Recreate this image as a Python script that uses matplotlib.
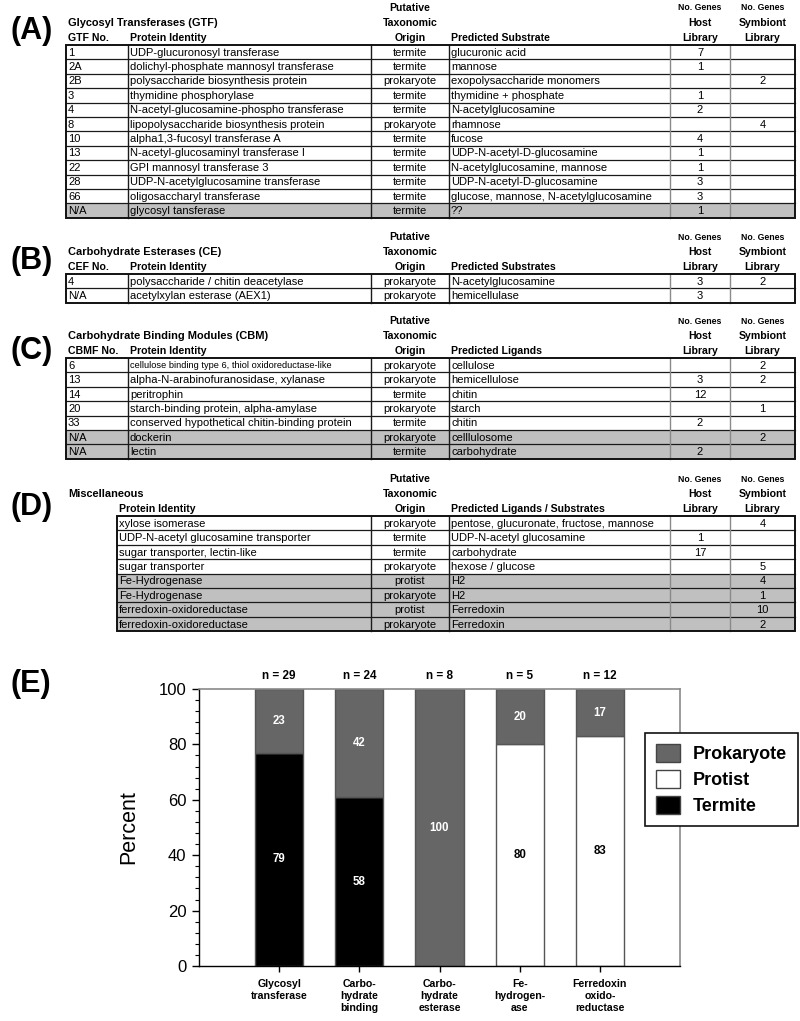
import matplotlib
matplotlib.use("Agg")
import matplotlib.pyplot as plt
from matplotlib.patches import Rectangle, Patch
from matplotlib.ticker import MultipleLocator

plt.rcParams['font.family'] = ['Liberation Sans', 'DejaVu Sans']

# ---------------- Table data ----------------
gtf_no = ["1", "2A", "2B", "3", "4", "8", "10", "13", "22", "28", "66", "N/A"]
gtf_protein = ["UDP-glucuronosyl transferase", "dolichyl-phosphate mannosyl transferase",
               "polysaccharide biosynthesis protein", "thymidine phosphorylase",
               "N-acetyl-glucosamine-phospho transferase", "lipopolysaccharide biosynthesis protein",
               "alpha1,3-fucosyl transferase A", "N-acetyl-glucosaminyl transferase I",
               "GPI mannosyl transferase 3", "UDP-N-acetylglucosamine transferase",
               "oligosaccharyl transferase", "glycosyl tansferase"]
gtf_origin = ["termite", "termite", "prokaryote", "termite", "termite", "prokaryote",
              "termite", "termite", "termite", "termite", "termite", "termite"]
gtf_substrate = ["glucuronic acid", "mannose", "exopolysaccharide monomers", "thymidine + phosphate",
                 "N-acetylglucosamine", "rhamnose", "fucose", "UDP-N-acetyl-D-glucosamine",
                 "N-acetylglucosamine, mannose", "UDP-N-acetyl-D-glucosamine",
                 "glucose, mannose, N-acetylglucosamine", "??"]
gtf_host = ["7", "1", "", "1", "2", "", "4", "1", "1", "3", "3", "1"]
gtf_symb = ["", "", "2", "", "", "4", "", "", "", "", "", ""]
gtf_shaded = [False] * 11 + [True]

ce_no = ["4", "N/A"]
ce_protein = ["polysaccharide / chitin deacetylase", "acetylxylan esterase (AEX1)"]
ce_origin = ["prokaryote", "prokaryote"]
ce_substrate = ["N-acetylglucosamine", "hemicellulase"]
ce_host = ["3", "3"]
ce_symb = ["2", ""]
ce_shaded = [False, False]

cbm_no = ["6", "13", "14", "20", "33", "N/A", "N/A"]
cbm_protein = ["cellulose binding type 6, thiol oxidoreductase-like",
               "alpha-N-arabinofuranosidase, xylanase", "peritrophin",
               "starch-binding protein, alpha-amylase",
               "conserved hypothetical chitin-binding protein", "dockerin", "lectin"]
cbm_origin = ["prokaryote", "prokaryote", "termite", "prokaryote", "termite", "prokaryote", "termite"]
cbm_ligand = ["cellulose", "hemicellulose", "chitin", "starch", "chitin", "celllulosome", "carbohydrate"]
cbm_host = ["", "3", "12", "", "2", "", "2"]
cbm_symb = ["2", "2", "", "1", "", "2", ""]
cbm_shaded = [False] * 5 + [True, True]

misc_protein = ["xylose isomerase", "UDP-N-acetyl glucosamine transporter",
                "sugar transporter, lectin-like", "sugar transporter", "Fe-Hydrogenase",
                "Fe-Hydrogenase", "ferredoxin-oxidoreductase", "ferredoxin-oxidoreductase"]
misc_origin = ["prokaryote", "termite", "termite", "prokaryote", "protist", "prokaryote",
               "protist", "prokaryote"]
misc_ligand = ["pentose, glucuronate, fructose, mannose", "UDP-N-acetyl glucosamine",
               "carbohydrate", "hexose / glucose", "H2", "H2", "Ferredoxin", "Ferredoxin"]
misc_host = ["", "1", "17", "", "", "", "", ""]
misc_symb = ["4", "", "", "5", "4", "1", "10", "2"]
misc_shaded = [False] * 4 + [True] * 4

# ---------------- Bar chart data ----------------
categories = ["Glycosyl\ntransferase", "Carbo-\nhydrate\nbinding", "Carbo-\nhydrate\nesterase",
              "Fe-\nhydrogen-\nase", "Ferredoxin\noxido-\nreductase"]
n_totals = [29, 24, 8, 5, 12]
termite = [77, 61, 0, 0, 0]
protist = [0, 0, 0, 80, 83]
prokaryote = [23, 39, 100, 20, 17]
termite_labels = ["79", "58", "", "", ""]
protist_labels = ["", "", "", "80", "83"]
prok_labels = ["23", "42", "100", "20", "17"]

# ---------------- Figure ----------------
W, H = 800, 1021
fig = plt.figure(figsize=(8, 10.21), dpi=100)
tab = fig.add_axes([0, 0, 1, 1])
tab.set_xlim(0, W)
tab.set_ylim(H, 0)
tab.axis('off')

ROW_H = 14.4
EDGES_FULL = [66, 128, 371, 449, 670, 730, 795]
EDGES_D = [117, 371, 449, 670, 730, 795]
BODY_FS = 8.0
HEAD_FS = 7.6


def draw_table(top, edges, columns, aligns, shaded, head_left, head_center, title,
               title_x, small_first_row_col=None):
    n = len(columns[0])
    bottom = top + n * ROW_H
    x0, x1 = edges[0], edges[-1]
    for i in range(n):
        if shaded[i]:
            tab.add_patch(Rectangle((x0, top + i * ROW_H), x1 - x0, ROW_H,
                                    facecolor='#c0c0c0', edgecolor='none', zorder=1))
    for i in range(1, n):
        tab.plot([x0, x1], [top + i * ROW_H] * 2, color='#1a1a1a', lw=0.9, zorder=2)
    for j, x in enumerate(edges[1:-1]):
        col = '#8a8a8a' if j >= len(edges) - 4 else '#1a1a1a'
        tab.plot([x, x], [top, bottom], color=col, lw=1.0, zorder=2)
    tab.add_patch(Rectangle((x0, top), x1 - x0, bottom - top, fill=False,
                            edgecolor='#111111', lw=1.4, zorder=3))
    for c, (vals, al) in enumerate(zip(columns, aligns)):
        for i, v in enumerate(vals):
            if not v:
                continue
            yc = top + (i + 0.5) * ROW_H + 0.5
            fs = BODY_FS
            if small_first_row_col is not None and c == small_first_row_col and i == 0:
                fs = 6.7
            if al == 'left':
                tab.text(edges[c] + 2, yc, v, ha='left', va='center', fontsize=fs, zorder=4)
            else:
                tab.text((edges[c] + edges[c + 1]) / 2, yc, v, ha='center', va='center',
                         fontsize=fs, zorder=4)
    for c, txt in head_left.items():
        tab.text(edges[c] + 2, top - 7, txt, ha='left', va='center', fontsize=HEAD_FS,
                 fontweight='bold')
    for c, lines in head_center.items():
        xc = (edges[c] + edges[c + 1]) / 2
        for k, ln in enumerate(lines):
            fs = 6.3 if ln == "No. Genes" else HEAD_FS
            tab.text(xc, top - 37 + 15 * k, ln, ha='center', va='center', fontsize=fs,
                     fontweight='bold')
    tab.text(title_x, top - 22, title, ha='left', va='center', fontsize=HEAD_FS + 0.3,
             fontweight='bold')


aligns6 = ['left', 'left', 'center', 'left', 'center', 'center']
aligns5 = ['left', 'center', 'left', 'center', 'center']
hc_full = {2: ["Putative", "Taxonomic", "Origin"], 4: ["No. Genes", "Host", "Library"],
           5: ["No. Genes", "Symbiont", "Library"]}
hc_d = {1: ["Putative", "Taxonomic", "Origin"], 3: ["No. Genes", "Host", "Library"],
        4: ["No. Genes", "Symbiont", "Library"]}

draw_table(45, EDGES_FULL, [gtf_no, gtf_protein, gtf_origin, gtf_substrate, gtf_host, gtf_symb],
           aligns6, gtf_shaded, {0: "GTF No.", 1: "Protein Identity", 3: "Predicted Substrate"},
           hc_full, "Glycosyl Transferases (GTF)", 68)
draw_table(274, EDGES_FULL, [ce_no, ce_protein, ce_origin, ce_substrate, ce_host, ce_symb],
           aligns6, ce_shaded, {0: "CEF No.", 1: "Protein Identity", 3: "Predicted Substrates"},
           hc_full, "Carbohydrate Esterases (CE)", 68)
draw_table(358, EDGES_FULL, [cbm_no, cbm_protein, cbm_origin, cbm_ligand, cbm_host, cbm_symb],
           aligns6, cbm_shaded, {0: "CBMF No.", 1: "Protein Identity", 3: "Predicted Ligands"},
           hc_full, "Carbohydrate Binding Modules (CBM)", 68, small_first_row_col=1)
draw_table(516, EDGES_D, [misc_protein, misc_origin, misc_ligand, misc_host, misc_symb],
           aligns5, misc_shaded, {0: "Protein Identity", 2: "Predicted Ligands / Substrates"},
           hc_d, "Miscellaneous", 68)

for lab, y in zip(["(A)", "(B)", "(C)", "(D)", "(E)"], [31, 261, 351, 507, 684]):
    tab.text(11, y, lab, ha='left', va='center', fontsize=22, fontweight='bold')

# ---------------- Bar chart ----------------
ax = fig.add_axes([199 / W, 1 - 966 / H, 481 / W, 277 / H])
x = list(range(1, len(categories) + 1))
c_term, c_prot, c_prok = '#000000', '#ffffff', '#666666'
edge = '#555555'
bottoms2 = [t + p for t, p in zip(termite, protist)]
ax.bar(x, termite, width=0.6, color=c_term, edgecolor=edge, lw=1.0, zorder=2)
ax.bar(x, protist, bottom=termite, width=0.6, color=c_prot, edgecolor=edge, lw=1.0, zorder=2)
ax.bar(x, prokaryote, bottom=bottoms2, width=0.6, color=c_prok, edgecolor=edge, lw=1.0, zorder=2)

for i in range(len(x)):
    if termite_labels[i]:
        ax.text(x[i], termite[i] / 2, termite_labels[i], ha='center', va='center',
                color='white', fontsize=8.3, fontweight='bold', zorder=3)
    if protist_labels[i]:
        ax.text(x[i], termite[i] + protist[i] / 2, protist_labels[i], ha='center',
                va='center', color='black', fontsize=8.3, fontweight='bold', zorder=3)
    if prok_labels[i]:
        ax.text(x[i], bottoms2[i] + prokaryote[i] / 2, prok_labels[i], ha='center',
                va='center', color='white', fontsize=8.3, fontweight='bold', zorder=3)
    ax.text(x[i], 104.8, f"n = {n_totals[i]}", ha='center', va='center', fontsize=8.5,
            fontweight='bold')

ax.set_xlim(0, 6)
ax.set_ylim(0, 100)
ax.set_xticks(x)
ax.set_xticklabels(categories, fontsize=7.6, fontweight='bold', linespacing=1.3)
ax.yaxis.set_major_locator(MultipleLocator(20))
ax.yaxis.set_minor_locator(MultipleLocator(4))
ax.tick_params(axis='y', which='major', length=5, width=1, labelsize=12, pad=4)
ax.tick_params(axis='y', which='minor', length=3, width=0.8)
ax.tick_params(axis='x', length=4, width=1, pad=5)
for s in ['top', 'right']:
    ax.spines[s].set_color('#8a8a8a')
    ax.spines[s].set_linewidth(1.2)
for s in ['left', 'bottom']:
    ax.spines[s].set_color('#000000')
    ax.spines[s].set_linewidth(1.0)
ax.set_ylabel("Percent", fontsize=15.5, labelpad=14)

handles = [Patch(facecolor=c_prok, edgecolor='#444444', lw=1.0),
           Patch(facecolor=c_prot, edgecolor='#444444', lw=1.0),
           Patch(facecolor=c_term, edgecolor='#444444', lw=1.0)]
leg = fig.legend(handles, ["Prokaryote", "Protist", "Termite"], loc='upper left',
                 bbox_to_anchor=(645 / W, 1 - 733 / H), borderaxespad=0,
                 prop={'weight': 'bold', 'size': 13}, handlelength=1.35, handleheight=1.2,
                 labelspacing=0.36, handletextpad=0.7, borderpad=0.6, fancybox=False,
                 framealpha=1, edgecolor='#111111')
leg.get_frame().set_linewidth(1.2)

fig.savefig("out.png", dpi=100)
